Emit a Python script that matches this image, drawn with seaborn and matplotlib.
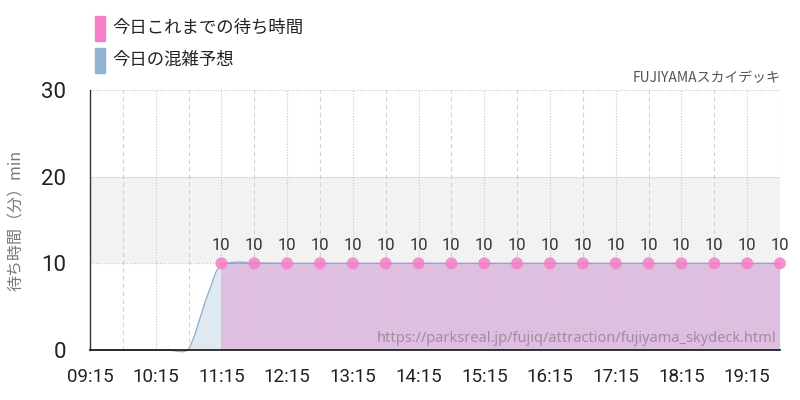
import matplotlib
matplotlib.use("Agg")
import matplotlib.pyplot as plt
import seaborn as sns
import numpy as np
import pandas as pd
from matplotlib.patches import Rectangle

# ---- data ----
actual_times = ["11:15", "11:45", "12:15", "12:45", "13:15", "13:45", "14:15", "14:45", "15:15",
                "15:45", "16:15", "16:45", "17:15", "17:45", "18:15", "18:45", "19:15", "19:45"]
actual_waits = [10, 10, 10, 10, 10, 10, 10, 10, 10, 10, 10, 10, 10, 10, 10, 10, 10, 10]

forecast_times = ["09:15", "09:30", "09:45", "10:00", "10:15", "10:30", "10:35", "10:40", "10:45",
                  "10:50", "11:00", "11:10", "11:15", "11:30", "11:45", "12:15", "13:15", "14:15",
                  "15:15", "16:15", "17:15", "18:15", "19:15", "19:45"]
forecast_waits = [0, 0, 0, 0, 0, -0.05, -0.15, -0.2, 0, 1.5, 5.5, 9.0, 10, 10.15, 10.05, 10, 10,
                  10, 10, 10, 10, 10, 10, 10]

tick_labels = ["09:15", "10:15", "11:15", "12:15", "13:15", "14:15", "15:15", "16:15", "17:15", "18:15", "19:15"]
y_ticks = [0, 10, 20, 30]

title = "FUJIYAMAスカイデッキ"
legend_labels = ["今日これまでの待ち時間", "今日の混雑予想"]
y_label = "待ち時間（分）min"
source = "https://parksreal.jp/fujiq/attraction/fujiyama_skydeck.html"


def to_h(t):
    h, m = t.split(":")
    return int(h) + int(m) / 60.0


act = pd.DataFrame({"t": [to_h(t) for t in actual_times], "w": actual_waits})
fc = pd.DataFrame({"t": [to_h(t) for t in forecast_times], "w": forecast_waits})

sns.set_theme(style="white")
plt.rcParams['font.family'] = ['Noto Sans CJK JP', 'DejaVu Sans']
num_font = ['Roboto', 'DejaVu Sans']

PINK = "#f57fc6"
BLUE = "#8fb3d0"

fig = plt.figure(figsize=(8, 4), dpi=100)
ax = fig.add_axes([0.1125, 0.125, 0.8625, 0.65])

x0, x1 = to_h("09:15"), to_h("19:45")
ax.set_xlim(x0, x1)
ax.set_ylim(0, 30)

# gray band
ax.axhspan(10, 20, color="#f2f2f2", zorder=0, lw=0)

# grids
for i in range(22):
    xv = x0 + i * 0.5
    if i % 2 == 0:
        ax.axvline(xv, color="#c8c8c8", lw=0.8, ls=(0, (1, 1.5)), zorder=0.5)
    else:
        ax.axvline(xv, color="#d0d0d0", lw=0.8, ls=(0, (4, 3)), zorder=0.5)
for yv in [10, 20, 30]:
    ax.axhline(yv, color="#c0c0c0", lw=0.8, ls=(0, (1, 1.5)), zorder=0.5)

# forecast
ax.fill_between(fc["t"], fc["w"], 0, color=BLUE, alpha=0.28, lw=0, zorder=1)
sns.lineplot(data=fc, x="t", y="w", ax=ax, color=BLUE, lw=1.0, zorder=2)
for l in ax.lines[-1:]:
    l.set_clip_on(False)

# actual
ax.fill_between(act["t"], act["w"], 0, color="#e0bde0", alpha=0.95, lw=0, zorder=3)
sns.lineplot(data=act, x="t", y="w", ax=ax, color="#c78ac8", lw=0.8, zorder=4)
sns.scatterplot(data=act, x="t", y="w", ax=ax, color=PINK, s=75, alpha=0.85,
                edgecolor="none", zorder=5, clip_on=False)
for t, w in zip(act["t"], act["w"]):
    ax.text(t, w + 1.2, str(w), ha="center", va="bottom", fontsize=12,
            family=num_font, color="#333333", zorder=6)

# axes styling
ax.set_xticks([to_h(t) for t in tick_labels])
ax.set_xticklabels(tick_labels, family=num_font, fontsize=13.5, color="#222222")
ax.set_yticks(y_ticks)
ax.set_yticklabels([str(v) for v in y_ticks], family=num_font, fontsize=16, color="#222222")
ax.tick_params(axis="x", length=10, color="#bbbbbb", width=1, pad=3)
ax.tick_params(axis="y", length=15, color="#bbbbbb", width=1, pad=2)
ax.set_xlabel("")
ax.set_ylabel(y_label, fontsize=11.5, color="#777777")
ax.yaxis.set_label_coords(-0.094, 0.5)
for s in ["top", "right"]:
    ax.spines[s].set_visible(False)
ax.spines["left"].set_color("#333333")
ax.spines["left"].set_linewidth(1)
ax.spines["bottom"].set_color("#111111")
ax.spines["bottom"].set_linewidth(1.2)
ax.spines["left"].set_zorder(7)
ax.spines["bottom"].set_zorder(7)

# title / source
fig.text(0.975, 0.805, title, ha="right", va="center", fontsize=10, color="#555555")
ax.text(0.995, 0.046, source, transform=ax.transAxes, ha="right", va="center",
        fontsize=10.5, color="#a08ca0", zorder=8,
        family=['Noto Sans', 'DejaVu Sans'])

# legend
for i, (lab, col) in enumerate(zip(legend_labels, [PINK, BLUE])):
    yc = 1 - (28 + i * 32) / 400
    fig.patches.append(Rectangle((95 / 800, yc - 12.5 / 400), 10 / 800, 25 / 400,
                                 transform=fig.transFigure, color=col, zorder=1))
    fig.text(112 / 800, yc, lab, ha="left", va="center", fontsize=12.5, color="#222222")

fig.savefig("out.png", dpi=100)
